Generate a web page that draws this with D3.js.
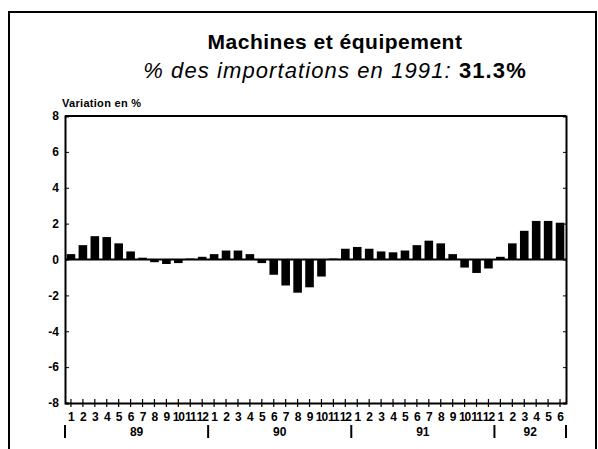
<!DOCTYPE html>
<html>
<head>
<meta charset="utf-8">
<script src="https://cdn.jsdelivr.net/npm/d3@7"></script>
<style>
  body { margin: 0; background: #fff; }
  svg { display: block; font-family: "Liberation Sans", Arial, sans-serif; }
</style>
</head>
<body>
<svg id="chart" width="598" height="449"></svg>
<script>
// Monthly change (%)
const years = ["89", "90", "91", "92"];
const months = ["1", "2", "3", "4", "5", "6", "7", "8", "9", "10", "11", "12"];
const values89 = [0.3, 0.8, 1.3, 1.25, 0.9, 0.45, 0.1, -0.15, -0.25, -0.2, 0.05, 0.15];
const values90 = [0.3, 0.5, 0.5, 0.3, -0.2, -0.85, -1.45, -1.85, -1.55, -0.95, 0.05, 0.6];
const values91 = [0.7, 0.6, 0.45, 0.4, 0.5, 0.8, 1.05, 0.9, 0.3, -0.45, -0.75, -0.5];
const values92 = [0.15, 0.9, 1.6, 2.15, 2.15, 2.05];
const yTicks = [8, 6, 4, 2, 0, -2, -4, -6, -8];

const seriesByYear = [values89, values90, values91, values92];
const data = [];
seriesByYear.forEach((vals, yi) => {
    vals.forEach((v, mi) => {
        data.push({ key: years[yi] + "-" + (mi + 1), year: years[yi], month: months[mi], value: v });
    });
});

const margin = { top: 116, right: 32, bottom: 46, left: 65 };
const width = 598 - margin.left - margin.right;
const height = 449 - margin.top - margin.bottom;

const svg = d3.select("#chart");

// Outer frame
svg.append("rect")
    .attr("x", 9).attr("y", 12)
    .attr("width", 587).attr("height", 460)
    .attr("fill", "none")
    .attr("stroke", "#000")
    .attr("stroke-width", 2);

// Titles
svg.append("text")
    .attr("x", 335).attr("y", 49)
    .attr("text-anchor", "middle")
    .attr("font-size", "21px")
    .attr("font-weight", "bold")
    .attr("letter-spacing", "0.5px")
    .text("Machines et équipement");

const sub = svg.append("text")
    .attr("x", 335).attr("y", 78)
    .attr("text-anchor", "middle")
    .attr("font-size", "22px")
    .attr("letter-spacing", "1.1px");
sub.append("tspan").attr("font-style", "italic").text("% des importations en 1991: ");
sub.append("tspan").attr("font-weight", "bold").text("31.3%");

svg.append("text")
    .attr("x", 62).attr("y", 107)
    .attr("font-size", "11px")
    .attr("font-weight", "bold")
    .attr("letter-spacing", "0.3px")
    .text("Variation en %");

const g = svg.append("g")
    .attr("transform", `translate(${margin.left}, ${margin.top})`);

const xScale = d3.scaleBand()
    .domain(data.map(d => d.key))
    .range([0, width])
    .paddingInner(0.28)
    .paddingOuter(0.14);

const yScale = d3.scaleLinear()
    .domain([-8, 8])
    .range([height, 0]);

// Bars
g.selectAll("rect.bar")
    .data(data)
    .join("rect")
    .attr("class", "bar")
    .attr("x", d => xScale(d.key))
    .attr("width", xScale.bandwidth())
    .attr("y", d => yScale(Math.max(0, d.value)))
    .attr("height", d => Math.abs(yScale(d.value) - yScale(0)))
    .attr("fill", "#000");

// Zero line
g.append("line")
    .attr("x1", 0).attr("x2", width)
    .attr("y1", yScale(0)).attr("y2", yScale(0))
    .attr("stroke", "#000")
    .attr("stroke-width", 2);

// Y axis
const yAxis = d3.axisLeft(yScale).tickValues(yTicks).tickSize(-4).tickPadding(6).tickFormat(d => String(d));
g.append("g")
    .attr("class", "y-axis")
    .call(yAxis)
    .call(a => a.select(".domain").attr("stroke-width", 2))
    .call(a => a.selectAll("text").attr("font-size", "12px").attr("font-weight", "bold").attr("fill", "#000"));

// Right axis
g.append("g")
    .attr("transform", `translate(${width}, 0)`)
    .call(d3.axisRight(yScale).tickValues(yTicks).tickSize(-3).tickFormat(""))
    .call(a => a.select(".domain").attr("stroke-width", 2));

// Top line
g.append("line")
    .attr("x1", 0).attr("x2", width)
    .attr("y1", 0).attr("y2", 0)
    .attr("stroke", "#000")
    .attr("stroke-width", 2);

// X axis, month ticks across the bottom line
const xAxis = d3.axisBottom(xScale).tickSize(0).tickPadding(9).tickFormat(k => k.split("-")[1]);
const xg = g.append("g")
    .attr("transform", `translate(0, ${height})`)
    .call(xAxis)
    .call(a => a.select(".domain").attr("stroke-width", 2))
    .call(a => a.selectAll("text")
        .attr("font-size", "12px")
        .attr("font-weight", "bold")
        .attr("letter-spacing", "-1px")
        .attr("fill", "#000"));

xg.selectAll(".tick").append("line")
    .attr("y1", -4).attr("y2", 4)
    .attr("stroke", "#000")
    .attr("stroke-width", 1.2);

// Year separators and labels
const yearGroups = years.map(y => {
    const keys = data.filter(d => d.year === y).map(d => d.key);
    const step = xScale.step();
    const x0 = xScale(keys[0]) - (step - xScale.bandwidth()) / 2;
    const x1 = xScale(keys[keys.length - 1]) + xScale.bandwidth() + (step - xScale.bandwidth()) / 2;
    return { year: y, x0: x0, x1: x1 };
});

const sepXs = [yearGroups[0].x0].concat(yearGroups.map(d => d.x1));
g.selectAll("line.sep")
    .data(sepXs)
    .join("line")
    .attr("class", "sep")
    .attr("x1", d => d).attr("x2", d => d)
    .attr("y1", height + 22).attr("y2", height + 35)
    .attr("stroke", "#000")
    .attr("stroke-width", 2);

g.selectAll("text.year")
    .data(yearGroups)
    .join("text")
    .attr("class", "year")
    .attr("x", d => (d.x0 + d.x1) / 2)
    .attr("y", height + 33)
    .attr("text-anchor", "middle")
    .attr("font-size", "12px")
    .attr("font-weight", "bold")
    .text(d => d.year);
</script>
</body>
</html>
